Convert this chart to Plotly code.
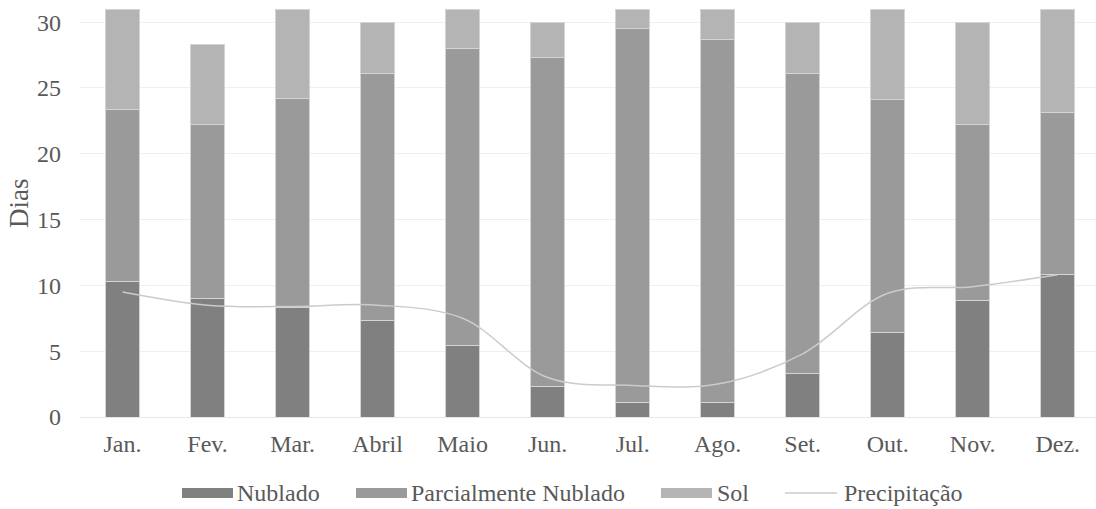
import plotly.graph_objects as go

# Monthly day counts by sky condition, with average precipitation
meses = ["Jan.", "Fev.", "Mar.", "Abril", "Maio", "Jun.", "Jul.", "Ago.", "Set.", "Out.", "Nov.", "Dez."]
nublado = [10.3, 9.0, 8.35, 7.3, 5.4, 2.3, 1.1, 1.1, 3.3, 6.4, 8.85, 10.8]
parcialmente_nublado = [13.1, 13.2, 15.85, 18.8, 22.6, 25.0, 28.4, 27.6, 22.8, 17.7, 13.35, 12.3]
sol = [7.6, 6.1, 6.8, 3.9, 3.0, 2.7, 1.5, 2.3, 3.9, 6.9, 7.8, 7.9]
precipitacao = [9.5, 8.5, 8.4, 8.5, 7.5, 3.0, 2.4, 2.5, 4.8, 9.4, 9.9, 10.8]
y_ticks = [0, 5, 10, 15, 20, 25, 30]

FONT = "Times New Roman, serif"
TEXT = "#595959"
C_NUB = "#808080"
C_PAR = "#9a9a9a"
C_SOL = "#b4b4b4"
C_PREC = "#cbcbcb"
EDGE = "#d4d4d4"

fig = go.Figure()
for nome, vals, cor in [("Nublado", nublado, C_NUB),
                        ("Parcialmente Nublado", parcialmente_nublado, C_PAR),
                        ("Sol", sol, C_SOL)]:
    fig.add_trace(go.Bar(x=meses, y=vals, name=nome,
                         marker=dict(color=cor, line=dict(color=EDGE, width=1))))

fig.add_trace(go.Scatter(x=meses, y=precipitacao, name="Precipitação", mode="lines",
                         line=dict(color=C_PREC, width=1.5, shape="spline", smoothing=1)))

W, H = 1096, 509
ML, MR, MT, MB = 80, 0, 9, 92
PW, PH = W - ML - MR, H - MT - MB

fig.update_layout(
    width=W, height=H,
    barmode="stack", bargap=0.6,
    showlegend=False,
    plot_bgcolor="white", paper_bgcolor="white",
    margin=dict(l=ML, r=MR, t=MT, b=MB, autoexpand=False),
    font=dict(family=FONT, size=24, color=TEXT),
)
fig.update_xaxes(type="category", range=[-0.5, 11.45], showgrid=False, showline=False,
                 ticks="", ticklabelstandoff=10, tickfont=dict(family=FONT, size=24, color=TEXT),
                 automargin=False, fixedrange=True)
fig.update_yaxes(range=[0, 31], tickvals=y_ticks, showgrid=True, gridcolor="#efefef",
                 gridwidth=1, zeroline=True, zerolinecolor="#e6e6e6", zerolinewidth=1,
                 showline=False, ticks="", ticklabelstandoff=18,
                 tickfont=dict(family=FONT, size=24, color=TEXT), automargin=False, fixedrange=True)

# Axis title
fig.add_annotation(text="Dias", xref="paper", yref="paper",
                   x=(19 - ML) / PW, y=(H - MB - 203) / PH,
                   textangle=-90, showarrow=False, xanchor="center", yanchor="middle",
                   font=dict(family=FONT, size=27, color=TEXT))

# Legend drawn below the plot
def px_x(x):
    return (x - ML) / PW

def px_y(y):
    return (H - MB - y) / PH

leg_y = 493
items = [("Nublado", C_NUB, 182, 233, 235, "rect"),
         ("Parcialmente Nublado", C_PAR, 356, 407, 409, "rect"),
         ("Sol", C_SOL, 661, 712, 715, "rect"),
         ("Precipitação", C_PREC, 785, 837, 842, "line")]
for nome, cor, x0, x1, xt, kind in items:
    if kind == "rect":
        fig.add_shape(type="rect", xref="paper", yref="paper",
                      x0=px_x(x0), x1=px_x(x1), y0=px_y(leg_y - 5), y1=px_y(leg_y + 5),
                      fillcolor=cor, line=dict(width=0))
    else:
        fig.add_shape(type="line", xref="paper", yref="paper",
                      x0=px_x(x0), x1=px_x(x1), y0=px_y(leg_y), y1=px_y(leg_y),
                      line=dict(color=cor, width=1.5))
    fig.add_annotation(text=nome, xref="paper", yref="paper", x=px_x(xt), y=px_y(leg_y),
                       xanchor="left", yanchor="middle", showarrow=False,
                       font=dict(family=FONT, size=24, color=TEXT))

fig.write_html("out.html")
